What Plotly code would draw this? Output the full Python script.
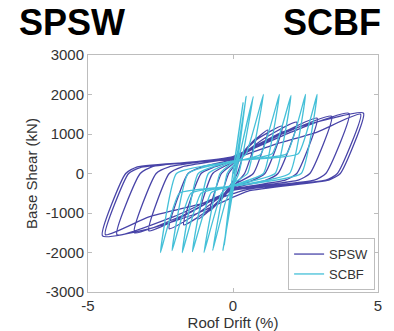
import plotly.graph_objects as go

# ---------------- data ----------------
# SPSW hysteresis path: roof drift (%) and base shear (kN)
spsw_drift = [
    0, 0.4, 0.15, -0.05, -0.4,
    -0.15, 0.1, 0.45, 0.8, 0.4, 0.1, -0.4, -0.8,
    -0.4, 0, 0.6, 1.2, 0.7, 0, -0.6, -1.2,
    -0.7, 0, 0.8, 1.7, 1.1, 0.6, 0, -0.8, -1.7,
    -1.1, -0.7, 0, 1.1, 2.2, 1.55, 1.1, 0, -1.1, -2.2,
    -1.55, -1.1, 0, 1.5, 2.9, 2.2, 1.8, 0, -1.5, -2.9,
    -2.2, -1.75, 0, 1.7, 3.4, 2.65, 2.25, 0, -1.7, -3.4,
    -2.65, -2.2, 0, 2.0, 4.0, 3.2, 2.8, 0, -2.0, -4.0,
    -3.2, -2.8, 0, 1.7, 3.35, 4.5, 3.7, 3.3, 0.5, -1.2, -2.9, -4.5,
    -3.7, -3.3, 0, 1.5, 2.9, 4.4, 3.6, 3.2, 0.5, -1.0, -2.9, -4.4,
    -3.6, -3.2, 0,
]
spsw_shear = [
    0, 600, 0, -250, -600,
    0, 250, 600, 900, 0, -250, -650, -950,
    0, 250, 750, 1100, 0, -300, -800, -1150,
    0, 300, 850, 1200, 0, -200, -350, -900, -1300,
    0, 150, 330, 900, 1300, 0, -180, -380, -950, -1400,
    0, 160, 360, 950, 1400, 0, -170, -400, -1000, -1450,
    0, 170, 400, 1000, 1450, 0, -170, -420, -1050, -1500,
    0, 170, 420, 1050, 1520, 0, -170, -430, -1080, -1550,
    0, 170, 430, 1050, 1390, 1530, 0, -170, -450, -1000, -1400, -1580,
    0, 170, 380, 750, 1050, 1500, 0, -170, -400, -750, -1100, -1550,
    0, 150, 350,
]

# SCBF hysteresis path: roof drift (%) and base shear (kN)
scbf_drift = [
    0, 0.35, 0.0, -0.3,
    0.05, 0.45, 0.1, -0.35,
    0.1, 0.3, 0.7, 0.2, -0.25, -0.7,
    -0.2, 0, 0.45, 1.05, 0.5, 0, -0.4, -1.0,
    -0.45, 0, 0.95, 1.6, 1.05, 0, -0.75, -1.4,
    -0.85, 0, 1.35, 2.0, 1.45, 0, -1.1, -1.75,
    -1.2, 0, 1.85, 2.5, 1.95, 0, -1.45, -2.1,
    -1.55, 0, 2.25, 2.9, 2.35, 0, -1.85, -2.5,
    -1.95, 0,
]
scbf_shear = [
    0, 1800, 50, -1800,
    0, 1950, 0, -1950,
    0, 700, 1950, 0, -700, -1950,
    0, 200, 500, 2000, 0, -250, -500, -2000,
    0, 280, 480, 2000, 0, -300, -480, -1980,
    0, 300, 500, 1980, 0, -300, -500, -2000,
    0, 320, 500, 2000, 0, -320, -500, -1950,
    0, 320, 500, 2000, 0, -320, -500, -2000,
    0, 300,
]

series_names = ["SPSW", "SCBF"]
x_ticks = [-5, 0, 5]
y_ticks = [-3000, -2000, -1000, 0, 1000, 2000, 3000]

# ---------------- figure ----------------
SPSW_COLOR = "#4844a8"
SCBF_COLOR = "#45c0d8"
FONT = "Liberation Sans, Arial, sans-serif"
AXIS_GREY = "#bdbdbd"

fig = go.Figure()
fig.add_trace(go.Scatter(x=spsw_drift, y=spsw_shear, mode="lines", name=series_names[0],
                         line=dict(color=SPSW_COLOR, width=1.3, shape="spline", smoothing=0.5)))
fig.add_trace(go.Scatter(x=scbf_drift, y=scbf_shear, mode="lines", name=series_names[1],
                         line=dict(color=SCBF_COLOR, width=1.3, shape="spline", smoothing=0.4)))

axis_common = dict(showline=True, linecolor=AXIS_GREY, linewidth=1, mirror="ticks",
                   ticks="inside", ticklen=4, tickcolor=AXIS_GREY, showgrid=False,
                   zeroline=False, automargin=False,
                   tickfont=dict(family=FONT, size=15, color="#333"))

fig.update_xaxes(range=[-5, 5], tickvals=x_ticks, ticktext=[str(v) for v in x_ticks],
                 title=dict(text="Roof Drift (%)", font=dict(family=FONT, size=15, color="#333"), standoff=2),
                 **axis_common)
fig.update_yaxes(range=[-3000, 3000], tickvals=y_ticks, ticktext=[str(v) for v in y_ticks],
                 title=dict(text="Base Shear (kN)", font=dict(family=FONT, size=15, color="#333"), standoff=4),
                 **axis_common)

fig.update_layout(
    width=394, height=331,
    margin=dict(l=88, r=16, t=55, b=39),
    paper_bgcolor="white", plot_bgcolor="white",
    showlegend=True,
    legend=dict(x=0.99, y=0.008, xanchor="right", yanchor="bottom",
                bgcolor="white", bordercolor=AXIS_GREY, borderwidth=1,
                font=dict(family=FONT, size=13, color="#333"),
                itemwidth=30, tracegroupgap=0),
    annotations=[
        dict(text="<b>SPSW</b>", xref="paper", yref="paper", x=-0.245, y=1.139,
             xanchor="left", yanchor="middle", showarrow=False,
             font=dict(family=FONT, size=36, color="black")),
        dict(text="<b>SCBF</b>", xref="paper", yref="paper", x=1.017, y=1.139,
             xanchor="right", yanchor="middle", showarrow=False,
             font=dict(family=FONT, size=36, color="black")),
    ],
)

fig.write_html("out.html", config={"displayModeBar": False},
               post_script="document.body.style.margin='0';")
